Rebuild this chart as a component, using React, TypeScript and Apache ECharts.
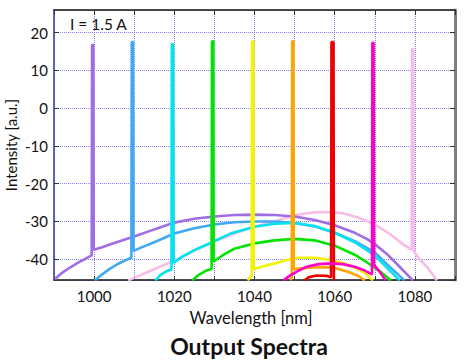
import React, { useEffect, useRef } from 'react';
import * as echarts from 'echarts';

// Wavelength range and intensity range of the plot
const xMin = 990;
const xMax = 1090;
const yMin = -45.5;
const yMax = 26;
const xLabelValues = [1000, 1020, 1040, 1060, 1080];

const seriesNames = ['1000 nm', '1010 nm', '1020 nm', '1030 nm', '1040 nm', '1050 nm', '1060 nm', '1070 nm', '1080 nm'];

// [wavelength nm, intensity a.u.]
const spec1000: [number, number][] = [
  [990.2, -45.3], [992, -43.6], [994, -42.2], [996, -40.9], [998, -39.8], [999.4, -39.0],
  [999.5, 16.8], [999.8, 16.8], [999.9, -37.5],
  [1002, -36.8], [1005, -35.7], [1010, -34.0], [1015, -32.1], [1020, -30.3], [1025, -29.3],
  [1030, -28.7], [1035, -28.3], [1040, -28.2], [1045, -28.3], [1050, -28.7], [1055, -29.6],
  [1060, -31.0], [1065, -33.0], [1068, -34.6], [1070, -36.0], [1073, -38.6], [1076, -41.8], [1079.5, -45.6],
];
const spec1010: [number, number][] = [
  [1000.2, -45.6], [1002, -44.0], [1004, -42.5], [1006, -41.2], [1008, -40.2], [1009.3, -39.6],
  [1009.4, 17.5], [1009.7, 17.5], [1009.8, -37.8],
  [1012, -36.8], [1015, -35.5], [1020, -33.2], [1025, -31.8], [1030, -30.8], [1035, -30.2],
  [1040, -30.0], [1045, -30.0], [1050, -30.4], [1055, -31.3], [1060, -33.0], [1065, -35.2],
  [1070, -38.2], [1073, -41.3], [1077.4, -45.6],
];
const spec1020: [number, number][] = [
  [1015.3, -45.6], [1016.5, -44.2], [1018, -43.2], [1019.3, -42.7],
  [1019.4, 17.0], [1019.7, 17.0], [1019.8, -41.0],
  [1022, -39.3], [1025, -37.6], [1029, -35.7], [1034, -33.2], [1040, -31.4], [1045, -30.6],
  [1050, -30.4], [1055, -31.2], [1060, -33.0], [1065, -35.5], [1070, -39.0], [1073, -42.2], [1076.2, -45.6],
];
const spec1030: [number, number][] = [
  [1024.5, -45.6], [1026, -44.2], [1028, -43.0], [1029.3, -42.6],
  [1029.4, 17.7], [1029.7, 17.7], [1029.8, -40.6],
  [1032, -39.0], [1035, -37.2], [1040, -35.8], [1045, -35.0], [1050, -34.6], [1055, -35.0],
  [1060, -36.4], [1065, -38.8], [1068, -40.8], [1071, -43.0], [1074, -45.6],
];
const spec1040: [number, number][] = [
  [1038.3, -45.6], [1039.3, -44.3],
  [1039.4, 17.7], [1039.7, 17.7], [1039.8, -42.6],
  [1042, -41.9], [1045, -41.1], [1048, -40.2], [1051, -39.6], [1055, -39.6], [1058, -40.0],
  [1062, -41.0], [1065, -42.2], [1067.5, -43.6], [1069.5, -45.6],
];
const spec1050: [number, number][] = [
  [1049.0, -45.6], [1049.3, -44.8],
  [1049.4, 17.7], [1049.7, 17.7], [1049.8, -42.6],
  [1052, -42.4], [1055, -42.2], [1058, -42.1], [1060, -42.3], [1062, -42.9], [1064, -43.6],
  [1066, -44.5], [1067.5, -45.6],
];
const spec1060: [number, number][] = [
  [1052.5, -45.6], [1053.5, -44.8], [1055.5, -44.3], [1058, -44.4], [1059.1, -44.8],
  [1059.2, 17.5], [1059.7, 17.5], [1059.8, -45.6],
];
const spec1070: [number, number][] = [
  [1047.2, -45.6], [1049, -44.2], [1051, -43.0], [1053, -42.0], [1056, -41.3], [1059, -41.1],
  [1062, -41.3], [1065, -42.0], [1067.5, -43.0], [1069.3, -44.0],
  [1069.4, 17.3], [1069.7, 17.3], [1069.8, -41.5],
  [1071, -43.0], [1072.7, -45.6],
];
const spec1080: [number, number][] = [
  [1008.5, -45.6], [1012, -44.0], [1016, -42.2], [1020, -40.4], [1025, -37.7], [1030, -35.3],
  [1035, -33.2], [1040, -31.4], [1045, -30.0], [1050, -28.3], [1055, -27.6], [1058, -27.5],
  [1062, -27.8], [1066, -29.0], [1070, -30.8], [1074, -33.5], [1077, -36.0], [1079.2, -37.5],
  [1079.3, 15.6], [1079.6, 15.6], [1079.7, -37.8],
  [1081, -39.8], [1083, -42.0], [1085.5, -45.6],
];

const spectra = [spec1000, spec1010, spec1020, spec1030, spec1040, spec1050, spec1060, spec1070, spec1080];
const colors = ['#a06ee4', '#3fa9f2', '#00e4f0', '#00e400', '#f4f400', '#ffa500', '#ee0000', '#ff00c8', '#f8bde6'];
const drawOrder = [8, 0, 1, 2, 3, 4, 5, 6, 7];

const FONT = 'Lato';
const gridColor = '#8080ff';

export default function App() {
  const ref = useRef<HTMLDivElement>(null);
  useEffect(() => {
    const chart = echarts.init(ref.current!, null, { renderer: 'svg' });
    const option: any = {
      animation: false,
      backgroundColor: '#ffffff',
      textStyle: { fontFamily: FONT },
      grid: { left: 54, right: 12, top: 10, bottom: 84, containLabel: false },
      xAxis: [
        {
          type: 'value', position: 'bottom', min: xMin, max: xMax, interval: 10,
          axisLine: { show: true, onZero: false, lineStyle: { color: '#111', width: 1.5 } },
          axisTick: { show: true, inside: true, length: 4, lineStyle: { color: '#333' } },
          axisLabel: {
            margin: 8, fontSize: 15, color: '#111', fontFamily: FONT,
            formatter: (v: number) => (xLabelValues.includes(v) ? String(v) : ''),
          },
          splitLine: { show: true, lineStyle: { color: gridColor, type: 'dotted', width: 1 } },
        },
        {
          type: 'value', position: 'top', min: xMin, max: xMax, interval: 10,
          axisLine: { show: true, onZero: false, lineStyle: { color: '#111', width: 1.5 } },
          axisTick: { show: true, inside: true, length: 5, lineStyle: { color: '#333' } },
          axisLabel: { show: false },
          splitLine: { show: false },
        },
      ],
      yAxis: [
        {
          type: 'value', position: 'left', min: yMin, max: yMax, minInterval: 10, maxInterval: 10,
          axisLine: { show: true, onZero: false, lineStyle: { color: '#3333aa', width: 1.5 } },
          axisTick: { show: true, inside: true, length: 5, lineStyle: { color: '#333' } },
          axisLabel: { margin: 6, fontSize: 15, color: '#111', fontFamily: FONT, showMinLabel: false, showMaxLabel: false },
          splitLine: { show: true, lineStyle: { color: gridColor, type: 'dotted', width: 1 } },
        },
        {
          type: 'value', position: 'right', min: yMin, max: yMax, minInterval: 10, maxInterval: 10,
          axisLine: { show: true, onZero: false, lineStyle: { color: '#808080', width: 3 } },
          axisTick: { show: true, inside: true, length: 5, lineStyle: { color: '#333' } },
          axisLabel: { show: false },
          splitLine: { show: false },
        },
      ],
      series: drawOrder.map((i) => ({
        name: seriesNames[i],
        type: 'line',
        xAxisIndex: 0,
        yAxisIndex: 0,
        data: spectra[i],
        showSymbol: false,
        symbol: 'none',
        smooth: false,
        clip: true,
        lineStyle: { color: colors[i], width: 2.6 },
        itemStyle: { color: colors[i] },
      })),
      graphic: [
        { type: 'text', left: 70, top: 16, style: { text: 'I = 1.5 A', fontSize: 15.5, fontFamily: FONT, fill: '#111' } },
        {
          type: 'text', x: 11, y: 145, rotation: Math.PI / 2,
          style: { text: 'Intensity [a.u.]', fontSize: 15, fontFamily: FONT, fill: '#111', align: 'center', verticalAlign: 'middle' },
        },
        {
          type: 'text', x: 251, y: 318,
          style: { text: 'Wavelength [nm]', fontSize: 16.5, fontFamily: FONT, fill: '#111', align: 'center', verticalAlign: 'middle' },
        },
        {
          type: 'text', x: 249, y: 346,
          style: { text: 'Output Spectra', fontSize: 23, fontWeight: 'bold', fontFamily: FONT, fill: '#111', align: 'center', verticalAlign: 'middle' },
        },
      ],
    };
    chart.setOption(option);
    return () => chart.dispose();
  }, []);
  return <div ref={ref} style={{ position: 'fixed', left: 0, top: 0, width: 467, height: 364, background: '#fff' }} />;
}
